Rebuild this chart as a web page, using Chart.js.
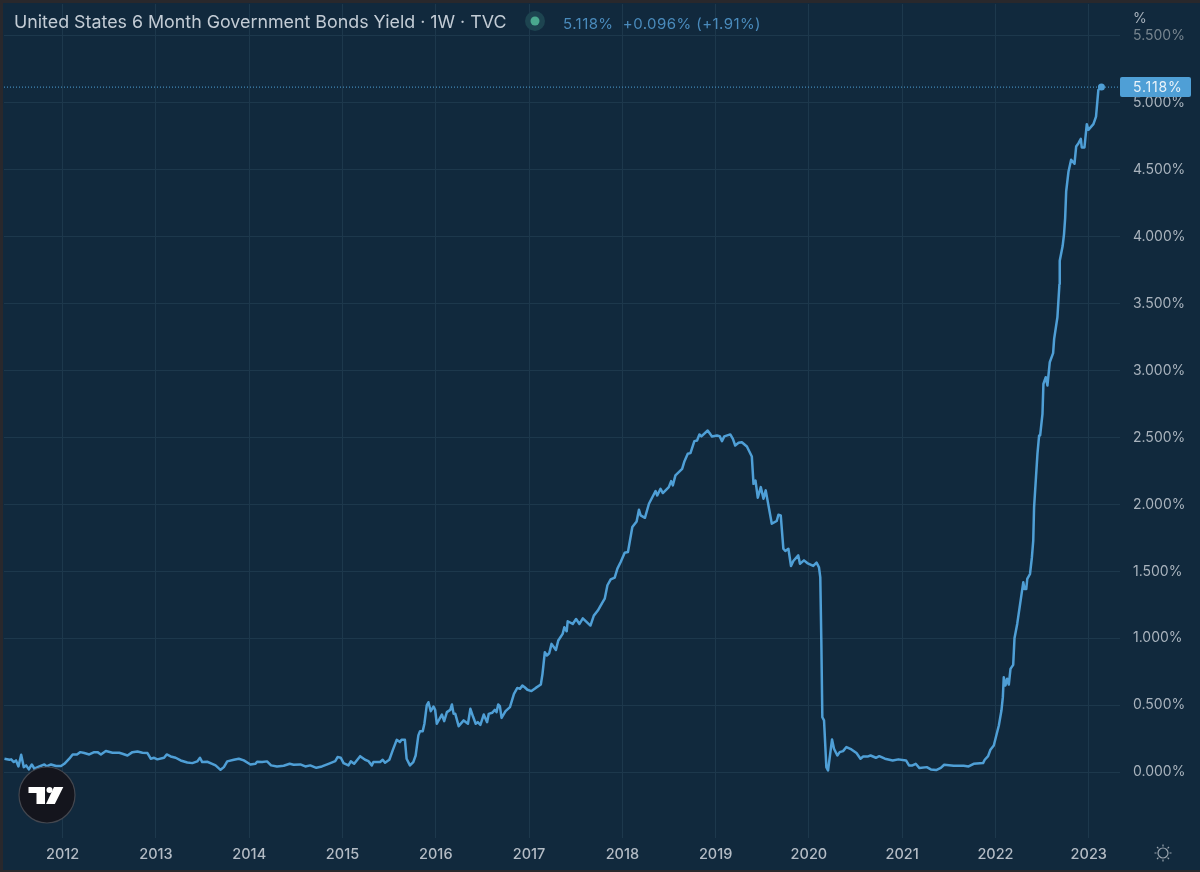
<!DOCTYPE html>
<html>
<head>
<meta charset="utf-8">
<title>United States 6 Month Government Bonds Yield</title>
<script src="https://cdn.jsdelivr.net/npm/chart.js@4/dist/chart.umd.min.js"></script>
<style>
  html, body { margin: 0; padding: 0; background: #29282c; }
  #wrap { position: relative; width: 1200px; height: 872px; overflow: hidden; font-family: Inter, sans-serif; }
  #panel { position: absolute; left: 3px; top: 3px; right: 0; bottom: 2px; background: #11293d; }
  #chart { position: absolute; left: 0; top: 0; }
  #name { position: absolute; left: 14px; top: 11px; font-size: 17.83px; line-height: 22px; color: #c3ccd5; white-space: nowrap; }
  #quote { position: absolute; left: 563px; top: 14px; font-size: 15px; line-height: 20px; letter-spacing: 0.43px; color: #4a8bbc; white-space: pre; }
  #unit { position: absolute; left: 1133px; top: 9px; font-size: 14px; line-height: 18px; color: #a9b3bd; }
  svg { position: absolute; left: 0; top: 0; pointer-events: none; }
</style>
</head>
<body>
<div id="wrap">
  <div id="panel"></div>
  <canvas id="chart" width="1200" height="872"></canvas>
  <div id="name">United States 6 Month Government Bonds Yield · 1W · TVC</div>
  <div id="quote">5.118%  +0.096% (+1.91%)</div>
  <div id="unit">%</div>
  <svg width="1200" height="872">
    <circle cx="535" cy="21" r="10" fill="#1d4450"/>
    <circle cx="535" cy="21" r="4.500" fill="#4aa88e"/>
    <circle cx="47" cy="795" r="28" fill="#14151d" stroke="#44474f" stroke-width="1.2"/>
    <path d="M28.500 787h16.500v17h-8.500v-11h-8z" fill="#fff"/>
    <circle cx="49.500" cy="790" r="3" fill="#fff"/>
    <path d="M54 787h9.300l-8.500 17h-8.800z" fill="#fff"/>
    <g stroke="#9aa5af" stroke-width="1.2" fill="none">
      <circle cx="1163" cy="853" r="5"/>
      <path d="M1163 844.500v2M1163 859.500v2M1154.500 853h2M1169.500 853h2M1157 847l1.400 1.400M1167.600 857.600l1.400 1.400M1169 847l-1.400 1.400M1158.400 857.600l-1.400 1.400"/>
    </g>
  </svg>
</div>
<script>
const weekYears = [
  2011.376,2011.43,2011.448,2011.476,2011.5,2011.526,2011.555,2011.583,2011.608,2011.637,
  2011.669,2011.697,2011.75,2011.804,2011.829,2011.875,2011.929,2011.982,2012.018,2012.071,
  2012.107,2012.153,2012.189,2012.232,2012.285,2012.338,2012.374,2012.41,2012.463,2012.534,
  2012.606,2012.641,2012.695,2012.748,2012.802,2012.855,2012.909,2012.944,2012.98,2013.015,
  2013.087,2013.115,2013.158,2013.211,2013.265,2013.336,2013.39,2013.443,2013.472,2013.496,
  2013.55,2013.603,2013.639,2013.692,2013.728,2013.764,2013.835,2013.888,2013.942,2014.013,
  2014.067,2014.084,2014.138,2014.191,2014.234,2014.298,2014.369,2014.434,2014.476,2014.548,
  2014.601,2014.654,2014.719,2014.779,2014.85,2014.922,2014.947,2014.982,2015.011,2015.064,
  2015.089,2015.125,2015.189,2015.242,2015.278,2015.314,2015.331,2015.403,2015.431,2015.456,
  2015.502,2015.538,2015.581,2015.615,2015.633,2015.669,2015.687,2015.723,2015.759,2015.784,
  2015.813,2015.831,2015.86,2015.878,2015.903,2015.921,2015.946,2015.975,2015.993,2016.011,
  2016.065,2016.09,2016.119,2016.155,2016.173,2016.191,2016.209,2016.245,2016.299,2016.345,
  2016.371,2016.399,2016.428,2016.45,2016.478,2016.514,2016.55,2016.568,2016.604,2016.633,
  2016.651,2016.669,2016.687,2016.705,2016.748,2016.795,2016.838,2016.874,2016.903,2016.928,
  2016.953,2016.982,2017.025,2017.072,2017.126,2017.144,2017.169,2017.191,2017.216,2017.241,
  2017.288,2017.313,2017.36,2017.378,2017.403,2017.414,2017.468,2017.504,2017.54,2017.576,
  2017.658,2017.694,2017.737,2017.781,2017.811,2017.84,2017.875,2017.918,2017.947,2017.982,
  2018.025,2018.06,2018.107,2018.153,2018.178,2018.196,2018.242,2018.285,2018.356,2018.374,
  2018.409,2018.434,2018.498,2018.523,2018.541,2018.569,2018.641,2018.666,2018.701,2018.73,
  2018.772,2018.801,2018.826,2018.847,2018.915,2018.961,2019.014,2019.043,2019.068,2019.093,
  2019.157,2019.185,2019.21,2019.246,2019.281,2019.335,2019.388,2019.406,2019.427,2019.452,
  2019.484,2019.513,2019.537,2019.602,2019.655,2019.673,2019.698,2019.726,2019.747,2019.78,
  2019.808,2019.833,2019.886,2019.904,2019.947,2019.982,2020.011,2020.046,2020.082,2020.108,
  2020.122,2020.133,2020.144,2020.162,2020.187,2020.205,2020.248,2020.269,2020.305,2020.33,
  2020.366,2020.402,2020.456,2020.51,2020.553,2020.582,2020.635,2020.661,2020.718,2020.754,
  2020.815,2020.898,2020.959,2021.041,2021.073,2021.11,2021.145,2021.185,2021.264,2021.307,
  2021.364,2021.414,2021.45,2021.551,2021.659,2021.712,2021.766,2021.867,2021.885,2021.921,
  2021.946,2021.982,2022.036,2022.064,2022.079,2022.089,2022.107,2022.125,2022.143,2022.161,
  2022.19,2022.204,2022.233,2022.298,2022.312,2022.33,2022.341,2022.37,2022.39,2022.405,
  2022.414,2022.45,2022.468,2022.479,2022.504,2022.514,2022.539,2022.557,2022.582,2022.618,
  2022.629,2022.664,2022.686,2022.689,2022.72,2022.735,2022.747,2022.758,2022.783,2022.811,
  2022.847,2022.865,2022.89,2022.915,2022.925,2022.954,2022.979,2022.996,2023.05,2023.078,
  2023.103,2023.136
];
const yieldValues = [
  0.1,0.092,0.095,0.075,0.087,0.042,0.129,0.037,0.05,0.02,
  0.057,0.025,0.042,0.057,0.042,0.057,0.045,0.045,0.062,0.1,
  0.132,0.132,0.149,0.142,0.132,0.149,0.149,0.132,0.157,0.144,
  0.144,0.137,0.124,0.149,0.154,0.144,0.142,0.1,0.107,0.095,
  0.107,0.132,0.117,0.107,0.087,0.072,0.067,0.08,0.107,0.075,
  0.077,0.062,0.05,0.017,0.037,0.08,0.092,0.1,0.087,0.057,
  0.062,0.077,0.075,0.08,0.05,0.042,0.047,0.062,0.055,0.057,
  0.042,0.05,0.032,0.042,0.062,0.082,0.112,0.107,0.067,0.05,
  0.08,0.062,0.119,0.092,0.082,0.05,0.075,0.075,0.092,0.07,
  0.092,0.162,0.241,0.224,0.241,0.241,0.1,0.05,0.075,0.124,
  0.274,0.306,0.306,0.361,0.498,0.522,0.455,0.49,0.465,0.361,
  0.43,0.381,0.448,0.465,0.505,0.435,0.435,0.343,0.386,0.361,
  0.473,0.415,0.361,0.373,0.353,0.43,0.373,0.435,0.443,0.465,
  0.448,0.505,0.493,0.405,0.455,0.485,0.585,0.629,0.622,0.647,
  0.634,0.615,0.605,0.629,0.654,0.734,0.896,0.871,0.888,0.958,
  0.913,0.983,1.033,1.082,1.052,1.127,1.107,1.144,1.107,1.149,
  1.095,1.169,1.207,1.261,1.296,1.396,1.44,1.453,1.52,1.57,
  1.639,1.644,1.831,1.873,1.96,1.918,1.9,2.005,2.1,2.067,
  2.117,2.085,2.129,2.174,2.142,2.217,2.266,2.323,2.378,2.383,
  2.473,2.478,2.523,2.508,2.552,2.508,2.515,2.51,2.473,2.508,
  2.523,2.49,2.44,2.46,2.465,2.433,2.358,2.154,2.179,2.05,
  2.129,2.042,2.105,1.856,1.876,1.923,1.918,1.669,1.652,1.669,
  1.54,1.577,1.619,1.557,1.582,1.562,1.552,1.54,1.565,1.53,
  1.455,0.983,0.41,0.386,0.037,0.012,0.244,0.174,0.124,0.149,
  0.157,0.187,0.169,0.142,0.1,0.117,0.117,0.124,0.107,0.119,
  0.1,0.087,0.095,0.087,0.05,0.05,0.062,0.03,0.037,0.02,
  0.015,0.032,0.055,0.047,0.047,0.042,0.062,0.067,0.092,0.119,
  0.167,0.199,0.348,0.46,0.56,0.709,0.647,0.697,0.654,0.771,
  0.801,1.0,1.107,1.418,1.368,1.368,1.443,1.48,1.6,1.73,
  1.98,2.378,2.515,2.515,2.677,2.9,2.95,2.888,3.062,3.13,
  3.237,3.398,3.647,3.821,3.93,4.02,4.139,4.338,4.488,4.575,
  4.545,4.674,4.699,4.731,4.667,4.667,4.841,4.799,4.841,4.898,
  5.097,5.118
];
const yearTicks = [2012,2013,2014,2015,2016,2017,2018,2019,2020,2021,2022,2023];
const yieldTicks = [0,0.5,1,1.5,2,2.5,3,3.5,4,4.5,5,5.5];
const lastYield = 5.118;

const LINE = '#4f9fd6';
const GRID = '#1d384c';
const LABEL = '#a9b3bd';
const X_MIN = 2011.371, X_MAX = 2023.335;
const Y_MIN = -0.4925, Y_MAX = 5.739;

const points = weekYears.map((x, i) => ({ x, y: yieldValues[i] }));
const lastIndex = points.length - 1;

// price badge sits over the axis labels, like the TV last-price tag
const lastPriceBadge = {
  id: 'lastPriceBadge',
  afterDraw(chart) {
    const { ctx, scales } = chart;
    const y = scales.y.getPixelForValue(lastYield);
    ctx.save();
    ctx.fillStyle = LINE;
    ctx.beginPath();
    ctx.roundRect(1120, y - 10, 71, 20, 2);
    ctx.fill();
    ctx.fillStyle = '#eaf3fa';
    ctx.font = '14px Inter, sans-serif';
    ctx.letterSpacing = '0.8px';
    ctx.textBaseline = 'middle';
    ctx.fillText(lastYield.toFixed(3) + '%', 1133, y + 1);
    ctx.restore();
  }
};

new Chart(document.getElementById('chart'), {
  type: 'line',
  data: {
    datasets: [
      {
        data: points,
        borderColor: LINE,
        borderWidth: 2.5,
        tension: 0,
        borderJoinStyle: 'round',
        pointRadius: ctx => (ctx.dataIndex === lastIndex ? 3.5 : 0),
        pointBackgroundColor: LINE,
        pointBorderWidth: 0
      },
      {
        data: [{ x: X_MIN, y: lastYield }, { x: X_MAX, y: lastYield }],
        borderColor: LINE,
        borderWidth: 1,
        borderDash: [1, 2],
        pointRadius: 0
      }
    ]
  },
  plugins: [lastPriceBadge],
  options: {
    responsive: false,
    animation: false,
    layout: { padding: { left: 3, top: 3, right: 0, bottom: 0 } },
    plugins: { legend: { display: false }, tooltip: { enabled: false } },
    scales: {
      x: {
        type: 'linear',
        min: X_MIN,
        max: X_MAX,
        afterBuildTicks: s => { s.ticks = yearTicks.map(value => ({ value })); },
        afterFit: s => { s.height = 34; s.paddingLeft = 0; s.paddingRight = 0; },
        grid: { color: GRID, drawTicks: false },
        border: { display: false },
        ticks: {
          color: '#b4bcc5',
          font: { size: 14.5, family: 'Inter, sans-serif', weight: '500' },
          padding: 8,
          maxRotation: 0,
          autoSkip: false,
          callback: v => String(v)
        }
      },
      y: {
        position: 'right',
        min: Y_MIN,
        max: Y_MAX,
        afterBuildTicks: s => { s.ticks = yieldTicks.map(value => ({ value })); },
        afterFit: s => { s.width = 80; s.paddingTop = 0; s.paddingBottom = 0; },
        grid: { color: GRID, drawTicks: false },
        border: { display: false },
        ticks: {
          color: ctx => (ctx.tick.value === 5.5 ? '#77858f' : LABEL),
          font: { size: 14, family: 'Inter, sans-serif' },
          padding: 13,
          autoSkip: false,
          callback: v => v.toFixed(3) + '%'
        }
      }
    }
  }
});
</script>
</body>
</html>
